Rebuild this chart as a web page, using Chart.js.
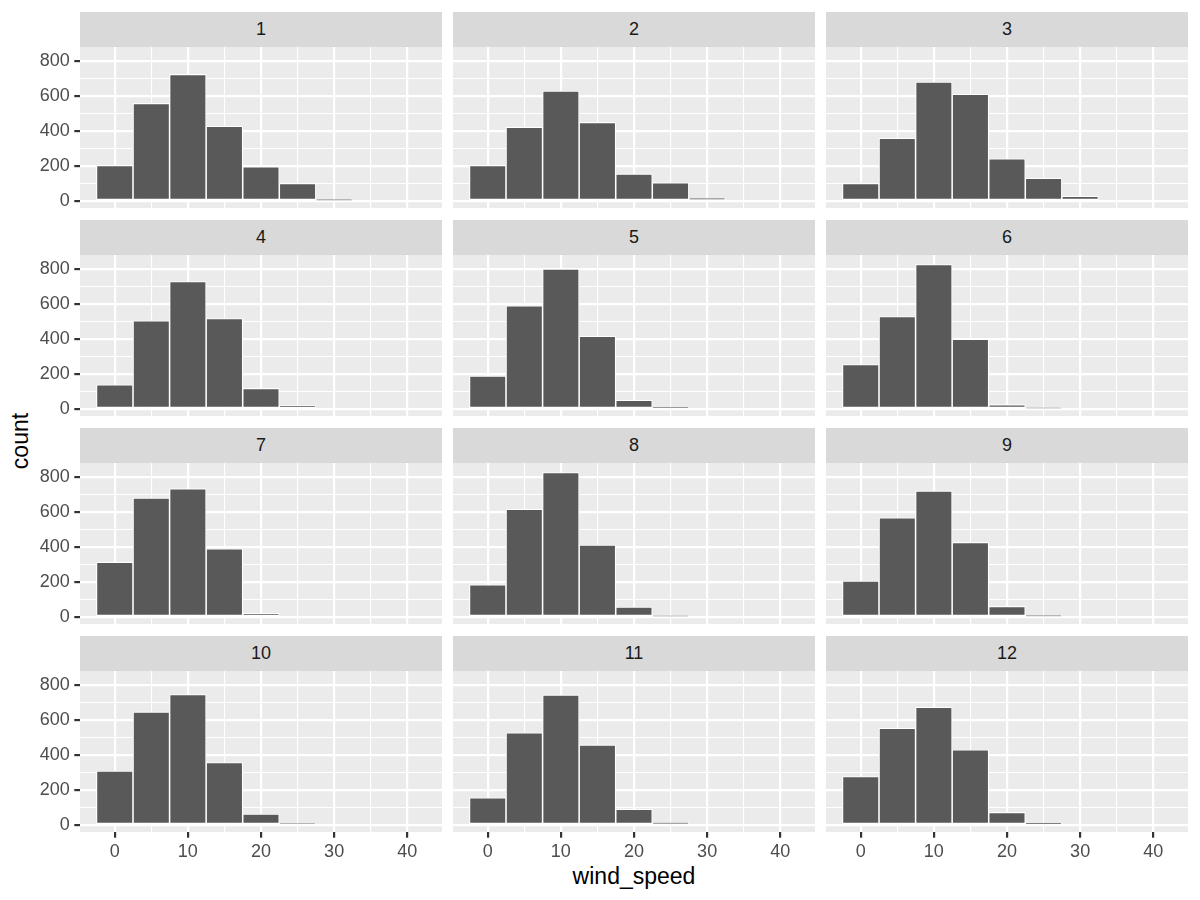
<!DOCTYPE html>
<html lang="en">
<head>
<meta charset="UTF-8">
<title>wind_speed by month</title>
<script src="https://cdn.jsdelivr.net/npm/chart.js"></script>
<style>
    body { margin: 0; background: #ffffff; font-family: "Liberation Sans", Arial, sans-serif; }
    .pagina { position: relative; width: 1200px; height: 900px; overflow: hidden; }
    .faixa { position: absolute; background: #D9D9D9; color: #1A1A1A; font-size: 18px;
             text-align: center; line-height: 35px; height: 35px; }
    canvas { position: absolute; }
    .titulo { position: absolute; color: #000000; font-size: 23px; white-space: nowrap; }
</style>
</head>
<body>
<div class="pagina" id="pagina">
    <div class="titulo" id="tituloY" style="left: 20px; top: 441px; transform: translate(-50%, -50%) rotate(-90deg);">count</div>
    <div class="titulo" id="tituloX" style="left: 634px; top: 876px; transform: translate(-50%, -50%);">wind_speed</div>
</div>

<script>
    // bins of width 5 centred on these values
    const binCenters = [0, 5, 10, 15, 20, 25, 30, 35, 40];
    const months = ["1", "2", "3", "4", "5", "6", "7", "8", "9", "10", "11", "12"];

    // counts per month
    const m01 = [202, 557, 723, 426, 195, 99, 2, 0, 0];
    const m02 = [202, 420, 628, 448, 153, 103, 14, 0, 0];
    const m03 = [99, 357, 679, 609, 240, 128, 25, 0, 0];
    const m04 = [137, 503, 728, 516, 116, 17, 0, 0, 0];
    const m05 = [187, 589, 800, 415, 48, 6, 0, 0, 0];
    const m06 = [253, 528, 825, 398, 23, 1, 0, 0, 0];
    const m07 = [312, 680, 733, 389, 19, 0, 0, 0, 0];
    const m08 = [183, 615, 825, 410, 55, 1, 0, 0, 0];
    const m09 = [204, 566, 720, 425, 59, 3, 0, 0, 0];
    const m10 = [307, 646, 745, 356, 61, 4, 0, 0, 0];
    const m11 = [154, 526, 743, 457, 88, 11, 0, 0, 0];
    const m12 = [276, 552, 672, 429, 70, 8, 0, 0, 0];
    const counts = [m01, m02, m03, m04, m05, m06, m07, m08, m09, m10, m11, m12];

    const xBreaks = [0, 10, 20, 30, 40];
    const xMinor = [5, 15, 25, 35];
    const yBreaks = [0, 200, 400, 600, 800];
    const yMinor = [100, 300, 500, 700];

    // panel geometry
    var colLeft = [80, 453, 826];
    var panelW = 362;
    var stripTop = [12, 220, 428, 636];
    var panelTop = [47, 255, 463, 671];
    var panelH = 161;
    var eixoY = 80;
    var eixoX = 40;

    var fundoPainel = {
        id: 'fundoPainel',
        beforeDraw: function (chart) {
            var a = chart.chartArea;
            var c = chart.ctx;
            c.save();
            c.fillStyle = '#EBEBEB';
            c.fillRect(a.left, a.top, a.right - a.left, a.bottom - a.top);
            c.restore();
        }
    };

    var pagina = document.getElementById('pagina');

    function ehMaior(lista, v) {
        return lista.indexOf(v) >= 0;
    }

    months.forEach(function (mes, i) {
        var col = i % 3;
        var lin = Math.floor(i / 3);
        var temY = col === 0;
        var temX = lin === 3;

        var faixa = document.createElement('div');
        faixa.className = 'faixa';
        faixa.style.left = colLeft[col] + 'px';
        faixa.style.top = stripTop[lin] + 'px';
        faixa.style.width = panelW + 'px';
        faixa.textContent = mes;
        pagina.appendChild(faixa);

        var cv = document.createElement('canvas');
        var w = panelW + (temY ? eixoY : 0);
        var h = panelH + (temX ? eixoX : 0);
        cv.width = w;
        cv.height = h;
        cv.style.width = w + 'px';
        cv.style.height = h + 'px';
        cv.style.left = (colLeft[col] - (temY ? eixoY : 0)) + 'px';
        cv.style.top = panelTop[lin] + 'px';
        pagina.appendChild(cv);

        var pontos = binCenters.map(function (b, k) {
            return { x: b, y: counts[i][k] };
        });

        new Chart(cv, {
            type: 'bar',
            data: {
                datasets: [{
                    data: pontos,
                    backgroundColor: '#595959',
                    borderColor: '#FFFFFF',
                    borderWidth: 1.1,
                    borderSkipped: false,
                    barPercentage: 1,
                    categoryPercentage: 1
                }]
            },
            options: {
                responsive: false,
                animation: false,
                devicePixelRatio: 1,
                layout: { padding: 0 },
                plugins: { legend: { display: false }, tooltip: { enabled: false } },
                scales: {
                    x: {
                        type: 'linear',
                        min: -4.75,
                        max: 44.75,
                        offset: false,
                        afterBuildTicks: function (s) {
                            s.ticks = xBreaks.concat(xMinor).sort(function (a, b) { return a - b; })
                                .map(function (v) { return { value: v }; });
                        },
                        afterFit: function (s) {
                            s.height = temX ? eixoX : 0;
                            s.paddingLeft = 0; s.paddingRight = 0;
                        },
                        border: { display: false },
                        grid: {
                            offset: false,
                            color: '#FFFFFF',
                            lineWidth: function (c) { return c.tick && ehMaior(xBreaks, c.tick.value) ? 2.2 : 1.1; },
                            drawTicks: temX,
                            tickLength: 5.7,
                            tickWidth: 2.2,
                            tickColor: function (c) { return c.tick && ehMaior(xBreaks, c.tick.value) ? '#333333' : 'rgba(0,0,0,0)'; }
                        },
                        ticks: {
                            display: temX,
                            autoSkip: false,
                            maxRotation: 0,
                            padding: 4,
                            color: '#4D4D4D',
                            font: { family: 'Liberation Sans', size: 18 },
                            callback: function (v) { return ehMaior(xBreaks, v) ? String(v) : ''; }
                        }
                    },
                    y: {
                        min: -42,
                        max: 880,
                        afterBuildTicks: function (s) {
                            s.ticks = yBreaks.concat(yMinor).sort(function (a, b) { return a - b; })
                                .map(function (v) { return { value: v }; });
                        },
                        afterFit: function (s) {
                            s.width = temY ? eixoY : 0;
                            s.paddingTop = 0; s.paddingBottom = 0;
                        },
                        border: { display: false },
                        grid: {
                            color: '#FFFFFF',
                            lineWidth: function (c) { return c.tick && ehMaior(yBreaks, c.tick.value) ? 2.2 : 1.1; },
                            drawTicks: temY,
                            tickLength: 5.7,
                            tickWidth: 2.2,
                            tickColor: function (c) { return c.tick && ehMaior(yBreaks, c.tick.value) ? '#333333' : 'rgba(0,0,0,0)'; }
                        },
                        ticks: {
                            display: temY,
                            autoSkip: false,
                            padding: 4.6,
                            color: '#4D4D4D',
                            font: { family: 'Liberation Sans', size: 18 },
                            callback: function (v) { return ehMaior(yBreaks, v) ? String(v) : ''; }
                        }
                    }
                }
            },
            plugins: [fundoPainel]
        });
    });
</script>
</body>
</html>
